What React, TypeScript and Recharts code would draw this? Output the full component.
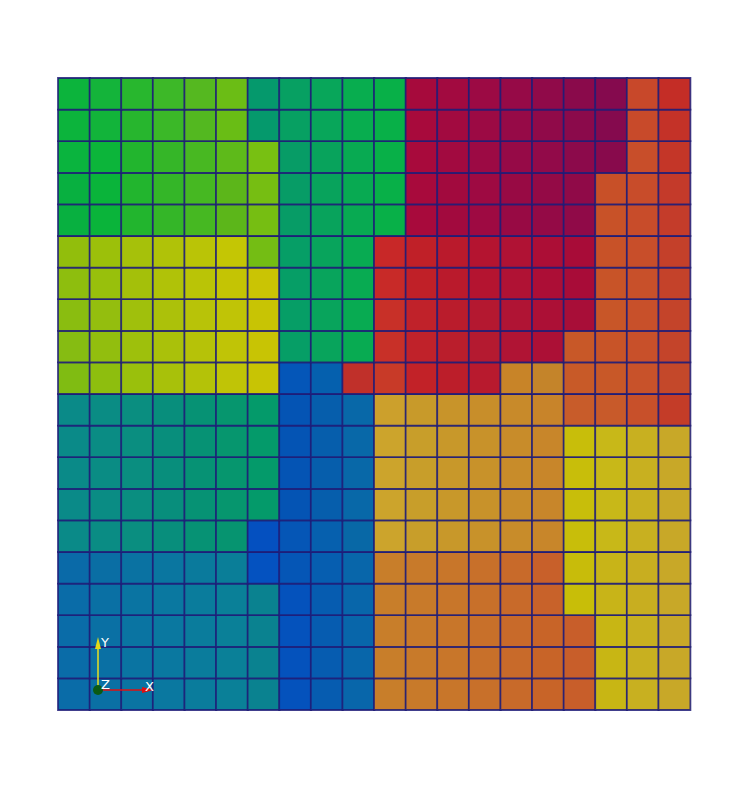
import React from "react";
import { BarChart, Bar, XAxis, YAxis, Cell } from "recharts";

// Cell colours, top row first, 20 columns each
const row0 = ["#0cb43c","#14b43a","#28b72e","#3db828","#55b820","#6bbd15","#05996c","#07a062","#08a65a","#08ad4f","#08b048","#a60a3c","#a20a40","#9c0a44","#960a47","#900a49","#8a0a4b","#850a4e","#c8482a","#c42d26"];
const row1 = ["#0cb43c","#12b43a","#27b62e","#3bb828","#53b820","#69bd15","#05996c","#07a062","#08a65a","#08ad4f","#08b048","#a80a3c","#a20a40","#9c0a44","#960a47","#900a49","#8b0a4b","#850a4e","#c84a2a","#c43228"];
const row2 = ["#0ab43e","#0cb53a","#22b52e","#35b628","#48b822","#5eba1a","#78c012","#079c66","#08a35c","#08aa52","#08b048","#a80a3c","#a20a40","#9c0a44","#960a47","#920a49","#8c0a4b","#880a4c","#c84e2a","#c43628"];
const row3 = ["#08b040","#0ab43a","#22b52e","#34b628","#46b822","#5cb61a","#76be12","#079c66","#08a35c","#08aa52","#08b048","#a80a3c","#a20a3e","#9e0a42","#980a44","#940a46","#900a48","#c85028","#c84c2a","#c43a2a"];
const row4 = ["#08b040","#0ab43a","#22b52e","#34b628","#46b822","#5cb61a","#76be12","#079c66","#08a35c","#08aa52","#08b048","#a80a3c","#a20a3e","#9e0a42","#980a44","#940a46","#900a48","#c85228","#c84c2a","#c43c2a"];
const row5 = ["#92be0c","#9cc00a","#a6c10a","#b0c208","#bac406","#c4c604","#74bd14","#069e66","#08a45c","#08ab52","#c82828","#c02028","#ba1a2c","#b41430","#b01234","#ac0e36","#a80c38","#c85228","#c84e2a","#c4402a"];
const row6 = ["#8ebe0e","#98c00c","#a4c00a","#b0c208","#bac406","#c4c404","#cac404","#069e66","#08a45c","#08ab52","#c82a28","#c02028","#ba1a2c","#b41430","#b01234","#ac0e36","#a80c38","#c85428","#c8502a","#c4422a"];
const row7 = ["#8abd10","#94be0e","#a0c00c","#acc10a","#b8c308","#c0c406","#c8c404","#069e66","#08a45c","#08ab52","#c83028","#c0222a","#ba1c2c","#b41830","#b01434","#ac1036","#a80e38","#c85628","#c8502a","#c4442a"];
const row8 = ["#86bc12","#92be0e","#9ec00c","#aac10a","#b6c208","#c0c406","#c8c404","#069e66","#08a45c","#08ab52","#c83028","#c0222a","#ba1e2c","#b41a30","#b01434","#ac1036","#c85828","#c85428","#c8502a","#c4442a"];
const row9 = ["#80bc12","#8ebe0e","#9ac00c","#a8c10a","#b4c208","#c0c406","#c8c404","#0456b8","#0560ae","#c0302a","#c83a28","#c22228","#bc1e2a","#b81a2e","#c88428","#c4842a","#c85a28","#c85828","#c8522a","#c4482a"];
const row10 = ["#0a8a88","#0a8c84","#0a8e80","#088e7c","#069274","#06966e","#049a6a","#0454b4","#065eac","#0868a8","#cca02c","#c89a2a","#c8942a","#c88e2a","#c88a2a","#c8842a","#c85c2a","#c85a2a","#c8502a","#c43c28"];
const row11 = ["#0a8a88","#0a8c84","#0a8e80","#088e7c","#069274","#06966e","#049a6a","#0454b4","#065eac","#0868a8","#cca42c","#c89e2a","#c8982a","#c8922a","#c88c2a","#c8862a","#c8be0a","#c8b818","#c8b020","#c8a828"];
const row12 = ["#0a8a88","#0a8c84","#0a8e80","#088e7c","#069274","#06966e","#049a6a","#0454b4","#065eac","#0868a8","#cca42c","#c89e2a","#c8982a","#c8922a","#c88c2a","#c8862a","#c8be0a","#c8b818","#c8b020","#c8a828"];
const row13 = ["#0a8a88","#0a8c84","#0a8e80","#088e7c","#069274","#06966e","#049a6a","#0454b4","#065eac","#0868a8","#cca42c","#c89e2a","#c8982a","#c8922a","#c88c2a","#c8862a","#c8be0a","#c8b818","#c8b020","#c8a828"];
const row14 = ["#0a8a88","#0a8c84","#0a8e80","#088e7c","#069274","#069470","#0450c0","#0556b6","#0660ae","#0868a6","#cca42c","#c89e2a","#c8982a","#c8922a","#c88c2a","#c8862a","#c8be0a","#c8b818","#c8b020","#c8a828"];
const row15 = ["#0a6aa8","#0a6ea4","#0a72a2","#0a76a0","#0a7a9c","#0a7e98","#0452c0","#0556b6","#065eb0","#0866aa","#c87e2a","#c87a2a","#c8762a","#c8702a","#c86a2a","#c8602a","#c8bc0a","#c8b418","#c8ae20","#c8a828"];
const row16 = ["#0a6ca8","#0a70a4","#0a74a2","#0a78a0","#0a7c9c","#0a8098","#0a8290","#0452bc","#065cb0","#0866aa","#c87e2a","#c87a2a","#c8762a","#c8702a","#c86a2a","#c8622a","#c8be08","#c8b418","#c8ae20","#c8a828"];
const row17 = ["#0a6ca8","#0a70a4","#0a74a2","#0a78a0","#0a7c9c","#0a8098","#0a8290","#0452bc","#065cb0","#0866aa","#c87e2a","#c87a2a","#c8762a","#c8702a","#c86a2a","#c86428","#c85e2a","#c8b614","#c8b020","#c8a828"];
const row18 = ["#0a6ca8","#0a70a4","#0a74a2","#0a78a0","#0a7c9c","#0a8098","#0a8290","#0452bc","#065cb0","#0866aa","#c87e2a","#c87a2a","#c8762a","#c8702a","#c86a2a","#c86428","#c85e2a","#c8b614","#c8b020","#c8a828"];
const row19 = ["#0a6ca8","#0a70a4","#0a74a2","#0a78a0","#0a7c9c","#0a8098","#0a8290","#0452bc","#065cb0","#0866aa","#c87e2a","#c87a2a","#c8762a","#c8702a","#c86a2a","#c86428","#c85e2a","#c8b614","#c8b020","#c8a828"];

const rowsTopDown = [row0,row1,row2,row3,row4,row5,row6,row7,row8,row9,row10,row11,row12,row13,row14,row15,row16,row17,row18,row19];
const columns = ["0","1","2","3","4","5","6","7","8","9","10","11","12","13","14","15","16","17","18","19"];
const cellHeight = 1;

// bottom row first for stacking
const rowsBottomUp = [...rowsTopDown].reverse();
const data = columns.map((c) => {
  const d: Record<string, string | number> = { col: c };
  rowsBottomUp.forEach((_, i) => { d["r" + i] = cellHeight; });
  return d;
});

const Triad = () => (
  <svg
    width={733}
    height={773}
    style={{ position: "absolute", left: 0, top: 0, pointerEvents: "none" }}
  >
    <line x1={90} y1={682} x2={90} y2={640} stroke="#e8e020" strokeWidth={1.5} />
    <polygon points="90,629 87,641 93,641" fill="#e0d818" />
    <line x1={90} y1={682} x2={134} y2={682} stroke="#e01010" strokeWidth={1.5} />
    <polygon points="146,682 134,679 134,685" fill="#e01010" />
    <circle cx={90} cy={682} r={5} fill="#0a5a14" />
    <text x={93} y={639} fill="#ffffff" fontSize={13} fontFamily="DejaVu Sans">Y</text>
    <text x={93} y={681} fill="#ffffff" fontSize={13} fontFamily="DejaVu Sans">Z</text>
    <text x={137} y={683} fill="#ffffff" fontSize={13} fontFamily="DejaVu Sans">X</text>
  </svg>
);

export default function App() {
  return (
    <div style={{ background: "#ffffff", width: 733, height: 773, position: "relative" }}>
      <BarChart
        width={733}
        height={773}
        data={data}
        margin={{ top: 70, right: 51, bottom: 71, left: 50 }}
        barCategoryGap={0}
        barGap={0}
      >
        <XAxis dataKey="col" hide />
        <YAxis hide domain={[0, 20]} type="number" />
        {rowsBottomUp.map((row, i) => (
          <Bar
            key={i}
            dataKey={"r" + i}
            stackId="a"
            isAnimationActive={false}
            stroke="#1e1c78"
            strokeWidth={1.8}
            strokeOpacity={0.85}
          >
            {row.map((color, j) => (
              <Cell key={j} fill={color} />
            ))}
          </Bar>
        ))}
      </BarChart>
      <Triad />
    </div>
  );
}
